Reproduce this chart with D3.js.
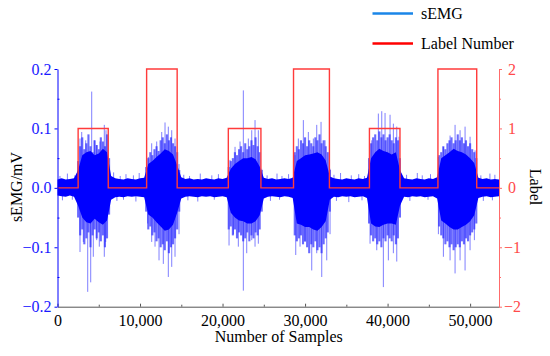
<!DOCTYPE html>
<html>
<head>
<meta charset="utf-8">
<script src="https://cdn.jsdelivr.net/npm/d3@7"></script>
<style>
  html, body { margin: 0; padding: 0; background: #fff; }
  svg { display: block; font-family: "Liberation Serif", "Times New Roman", serif; }
</style>
</head>
<body>
<svg id="chart" width="550" height="356"></svg>
<script>
// ---------- data ----------
// Envelope of the dense sEMG core, sampled every 500 samples (mV)
const envSamples = d3.range(0, 53501, 500);
const envUpper = [0.014,0.016,0.014,0.015,0.016,0.030,0.055,0.060,0.062,0.055,0.058,0.066,0.060,0.020,0.016,0.015,0.014,0.016,0.015,0.014,0.016,0.017,0.040,0.045,0.052,0.058,0.065,0.062,0.056,0.038,0.018,0.015,0.016,0.014,0.015,0.014,0.016,0.015,0.014,0.016,0.015,0.017,0.032,0.040,0.045,0.050,0.050,0.052,0.048,0.036,0.017,0.015,0.016,0.014,0.015,0.016,0.015,0.017,0.045,0.050,0.055,0.056,0.058,0.060,0.056,0.046,0.019,0.016,0.015,0.014,0.016,0.015,0.014,0.016,0.015,0.017,0.050,0.060,0.066,0.062,0.060,0.056,0.060,0.030,0.016,0.015,0.014,0.016,0.015,0.014,0.016,0.015,0.018,0.050,0.055,0.060,0.066,0.062,0.060,0.056,0.050,0.042,0.017,0.015,0.016,0.014,0.015,0.014];
const envLower = [-0.013,-0.014,-0.015,-0.013,-0.015,-0.030,-0.050,-0.058,-0.060,-0.052,-0.058,-0.062,-0.055,-0.020,-0.016,-0.015,-0.016,-0.014,-0.015,-0.014,-0.015,-0.016,-0.045,-0.050,-0.058,-0.065,-0.072,-0.070,-0.062,-0.042,-0.018,-0.015,-0.014,-0.015,-0.016,-0.014,-0.015,-0.014,-0.016,-0.015,-0.014,-0.016,-0.042,-0.050,-0.055,-0.056,-0.060,-0.060,-0.056,-0.046,-0.018,-0.015,-0.014,-0.015,-0.016,-0.014,-0.015,-0.017,-0.060,-0.062,-0.066,-0.066,-0.070,-0.072,-0.066,-0.056,-0.020,-0.015,-0.016,-0.014,-0.015,-0.014,-0.016,-0.015,-0.014,-0.017,-0.060,-0.065,-0.066,-0.062,-0.060,-0.060,-0.062,-0.030,-0.015,-0.016,-0.014,-0.015,-0.014,-0.016,-0.015,-0.014,-0.018,-0.055,-0.060,-0.066,-0.070,-0.070,-0.066,-0.062,-0.056,-0.046,-0.017,-0.015,-0.014,-0.016,-0.015,-0.014];

// Fuzzy fringe of the bursts: column maxima / minima every 250 samples (mV)
const colSamples = [
  2500,2750,3000,3250,3500,3750,4000,4250,4500,4750,5000,5250,5500,5750,6000,6250,
  10750,11000,11250,11500,11750,12000,12250,12500,12750,13000,13250,13500,13750,14000,14250,14500,14750,
  20750,21000,21250,21500,21750,22000,22250,22500,22750,23000,23250,23500,23750,24000,24250,24500,24750,
  28750,29000,29250,29500,29750,30000,30250,30500,30750,31000,31250,31500,31750,32000,32250,32500,32750,33000,
  37750,38000,38250,38500,38750,39000,39250,39500,39750,40000,40250,40500,40750,41000,41250,41500,
  46250,46500,46750,47000,47250,47500,47750,48000,48250,48500,48750,49000,49250,49500,49750,50000,50250,50500,50750
];
const colHigh = [
  0.045,0.070,0.085,0.065,0.075,0.090,0.070,0.060,0.080,0.072,0.065,0.085,0.078,0.070,0.090,0.050,
  0.035,0.050,0.060,0.055,0.065,0.070,0.062,0.080,0.085,0.075,0.090,0.080,0.085,0.075,0.070,0.060,0.030,
  0.035,0.045,0.050,0.060,0.055,0.065,0.070,0.060,0.075,0.065,0.070,0.080,0.072,0.085,0.070,0.060,0.030,
  0.060,0.070,0.065,0.080,0.075,0.085,0.070,0.080,0.075,0.070,0.085,0.080,0.090,0.075,0.080,0.070,0.060,0.030,
  0.050,0.075,0.085,0.090,0.080,0.095,0.085,0.090,0.080,0.085,0.090,0.080,0.075,0.085,0.080,0.050,
  0.055,0.060,0.070,0.065,0.075,0.080,0.085,0.075,0.080,0.090,0.080,0.085,0.075,0.080,0.070,0.075,0.065,0.060,0.050
];
const colLow = [
  -0.050,-0.080,-0.070,-0.095,-0.085,-0.075,-0.100,-0.080,-0.070,-0.085,-0.075,-0.090,-0.080,-0.100,-0.085,-0.045,
  -0.040,-0.070,-0.065,-0.080,-0.075,-0.090,-0.085,-0.100,-0.095,-0.105,-0.090,-0.110,-0.100,-0.095,-0.085,-0.070,-0.040,
  -0.070,-0.065,-0.080,-0.070,-0.085,-0.075,-0.080,-0.090,-0.085,-0.075,-0.090,-0.080,-0.085,-0.075,-0.080,-0.070,-0.040,
  -0.080,-0.090,-0.085,-0.080,-0.095,-0.090,-0.100,-0.110,-0.095,-0.100,-0.090,-0.105,-0.100,-0.110,-0.095,-0.085,-0.075,-0.040,
  -0.060,-0.080,-0.090,-0.085,-0.095,-0.090,-0.100,-0.085,-0.090,-0.080,-0.085,-0.090,-0.080,-0.095,-0.085,-0.050,
  -0.065,-0.080,-0.085,-0.095,-0.090,-0.100,-0.095,-0.105,-0.100,-0.095,-0.100,-0.090,-0.095,-0.085,-0.090,-0.080,-0.075,-0.070,-0.060
];

// Isolated spikes of the sEMG trace: sample index and peak value (mV)
const spikeSamples = [
  300,600,1200,1800,2100,6800,7200,7600,8000,8300,9200,9500,9900,15300,15800,16000,17000,17300,18700,19000,19500,
  25400,25800,26600,26900,27200,28000,33500,33800,34300,35300,35600,36500,36900,37200,42300,42700,43600,44200,44900,45200,51300,51600,52400,52700,53000,
  2727,2933,3418,4145,4460,4751,5151,5672,5878,
  2727,3127,3660,4024,4339,4751,5066,5672,5842,
  11006,11415,12023,12629,13029,13429,13841,14241,14726,
  10932,11415,11817,12302,12823,13429,13841,14241,14726,
  20907,21513,22119,22519,23125,23537,23937,24337,24749,
  20786,21307,21913,22519,22931,23537,23937,24337,
  28785,29185,29791,30397,31003,31415,31936,32421,33027,
  28869,29391,29997,30809,31415,32021,32627,33027,
  38081,38881,39293,39693,40299,40699,41111,41390,
  37875,38687,39487,40093,40699,41111,
  46157,46763,47571,48177,48783,49389,49995,50601,
  46157,46763,47571,48177,48783,49389,49995,50516
];
const spikeValues = [
  0.020,-0.021,0.024,-0.020,0.021,0.026,-0.022,0.020,-0.020,0.023,0.021,-0.023,0.025,0.022,-0.021,0.020,-0.023,0.024,0.021,-0.020,0.023,
  0.021,-0.022,0.024,-0.020,0.020,0.023,0.022,-0.022,0.025,-0.024,0.021,0.023,-0.021,0.020,0.022,-0.022,0.025,0.021,-0.020,0.023,0.021,-0.022,0.024,-0.021,0.022,
  0.083,0.094,0.080,0.162,0.080,0.072,0.078,0.106,0.097,
  -0.108,-0.091,-0.175,-0.159,-0.116,-0.088,-0.099,-0.116,-0.091,
  0.052,0.075,0.078,0.094,0.110,0.103,0.097,0.083,0.040,
  -0.060,-0.091,-0.099,-0.122,-0.128,-0.150,-0.133,-0.116,-0.078,
  0.047,0.069,0.078,0.164,0.083,0.097,0.114,0.097,0.032,
  -0.097,-0.078,-0.099,-0.173,-0.110,-0.088,-0.099,-0.094,
  0.055,0.083,0.114,0.094,0.083,0.106,0.111,0.080,0.032,
  -0.113,-0.099,-0.091,-0.139,-0.110,-0.150,-0.122,-0.078,
  0.080,0.125,0.129,0.126,0.123,0.108,0.103,0.086,
  -0.094,-0.105,-0.167,-0.122,-0.110,-0.124,
  0.052,0.069,0.088,0.106,0.097,0.103,0.086,0.063,
  -0.078,-0.116,-0.122,-0.144,-0.122,-0.139,-0.105,-0.088
];

// Label Number step signal
const labelSamples = [0,2500,6150,10800,14500,20700,24650,28600,32950,37800,41500,46100,50800,53500];
const labelValues  = [0,1,0,2,0,1,0,2,0,1,0,2,0,0];

// Axis ticks
const xTicks = [0,10000,20000,30000,40000,50000];
const xMinor = [5000,15000,25000,35000,45000];
const yTicks = [-0.2,-0.1,0,0.1,0.2];
const yMinor = [-0.15,-0.05,0.05,0.15];
const rTicks = [-2,-1,0,1,2];
const rMinor = [-1.5,-0.5,0.5,1.5];

const legendItems = ["sEMG","Label Number"];

// ---------- drawing ----------
const svg = d3.select("#chart");
const FONT = '"Liberation Serif", "Times New Roman", serif';
const L = 57.5, R = 499, T = 69, B = 306.7;
const x = d3.scaleLinear().domain([0,53500]).range([L,R]);
const y = d3.scaleLinear().domain([-0.2,0.2]).range([B,T]);
const yr = d3.scaleLinear().domain([-2,2]).range([B,T]);

const blue = "#0000ff";
const red = "#ff3b3b";

// isolated spikes (light, thin)
svg.append("g").selectAll("line").data(spikeSamples.map((s,i)=>[s,spikeValues[i]]))
  .join("line")
  .attr("x1", d=>x(d[0])).attr("x2", d=>x(d[0]))
  .attr("y1", y(0)).attr("y2", d=>y(d[1]))
  .attr("stroke", blue).attr("stroke-opacity",0.5).attr("stroke-width",1);

// fuzzy fringe columns
svg.append("g").selectAll("line").data(colSamples.map((s,i)=>[s,colHigh[i],colLow[i]]))
  .join("line")
  .attr("x1", d=>x(d[0])).attr("x2", d=>x(d[0]))
  .attr("y1", d=>y(d[2])).attr("y2", d=>y(d[1]))
  .attr("stroke", "#2a2aff").attr("stroke-opacity",0.7).attr("stroke-width",2.1);

// dense core
const env = envSamples.map((s,i)=>({s, u:envUpper[i], l:envLower[i]}));
svg.append("path").datum(env)
  .attr("d", d3.area().x(d=>x(d.s)).y0(d=>y(d.l)).y1(d=>y(d.u)))
  .attr("fill", blue);

// label step line
const lab = labelSamples.map((s,i)=>[s,labelValues[i]]);
svg.append("path").datum(lab)
  .attr("d", d3.line().x(d=>x(d[0])).y(d=>yr(d[1])).curve(d3.curveStepAfter))
  .attr("fill","none").attr("stroke",red).attr("stroke-width",1.4);

// axes
const FS = 16;
const gx = svg.append("g").attr("transform",`translate(0,${B})`)
  .call(d3.axisBottom(x).tickValues(xTicks).tickFormat(d3.format(",")).tickSizeInner(-3).tickSizeOuter(0).tickPadding(8))
  .attr("font-family",FONT).attr("font-size",FS);
gx.select(".domain").attr("stroke","#555");
gx.selectAll(".tick line").attr("stroke","#555");
gx.selectAll("text").attr("fill","#000");
svg.append("g").attr("transform",`translate(0,${B})`)
  .call(d3.axisBottom(x).tickValues(xMinor).tickFormat("").tickSizeInner(-2).tickSizeOuter(0))
  .call(g=>g.select(".domain").remove())
  .selectAll("line").attr("stroke","#555");

const gy = svg.append("g").attr("transform",`translate(${L},0)`)
  .call(d3.axisLeft(y).tickValues(yTicks).tickFormat(d3.format(".1f")).tickSizeInner(3).tickSizeOuter(0).tickPadding(3))
  .attr("font-family",FONT).attr("font-size",FS);
gy.select(".domain").attr("stroke",blue);
gy.selectAll(".tick line").attr("stroke",blue);
gy.selectAll("text").attr("fill","#1a1aff");
svg.append("g").attr("transform",`translate(${L},0)`)
  .call(d3.axisLeft(y).tickValues(yMinor).tickFormat("").tickSizeInner(-2).tickSizeOuter(0))
  .call(g=>g.select(".domain").remove())
  .selectAll("line").attr("stroke",blue);

const gr = svg.append("g").attr("transform",`translate(${R},0)`)
  .call(d3.axisRight(yr).tickValues(rTicks).tickFormat(d3.format("d")).tickSizeInner(3).tickSizeOuter(0).tickPadding(6))
  .attr("font-family",FONT).attr("font-size",FS);
gr.select(".domain").attr("stroke","#ff6b6b");
gr.selectAll(".tick line").attr("stroke","#ff6b6b");
gr.selectAll("text").attr("fill","#ff4a4a").attr("dx", d => d < 0 ? -4 : 0);
svg.append("g").attr("transform",`translate(${R},0)`)
  .call(d3.axisRight(yr).tickValues(rMinor).tickFormat("").tickSizeInner(2).tickSizeOuter(0))
  .call(g=>g.select(".domain").remove())
  .selectAll("line").attr("stroke","#ff6b6b");

// axis titles
svg.append("text").attr("x",(L+R)/2+0.5).attr("y",342).attr("text-anchor","middle")
  .attr("font-size",FS).attr("font-family",FONT).text("Number of Samples");
svg.append("text").attr("transform",`translate(21.5,187) rotate(-90)`).attr("text-anchor","middle")
  .attr("font-size",FS).attr("font-family",FONT).text("sEMG/mV");
svg.append("text").attr("transform",`translate(530,187) rotate(90)`).attr("text-anchor","middle")
  .attr("font-size",FS).attr("font-family",FONT).text("Label");

// legend
const legColors = ["#1a86e8","#ff0000"];
const lg = svg.append("g");
legendItems.forEach((t,i)=>{
  const yy = 13.5 + i*30;
  lg.append("line").attr("x1",372.5).attr("x2",413).attr("y1",yy).attr("y2",yy)
    .attr("stroke",legColors[i]).attr("stroke-width",2.5);
  lg.append("text").attr("x",421).attr("y",yy+5.8).attr("font-size",FS).attr("font-family",FONT).text(t);
});
</script>
</body>
</html>
